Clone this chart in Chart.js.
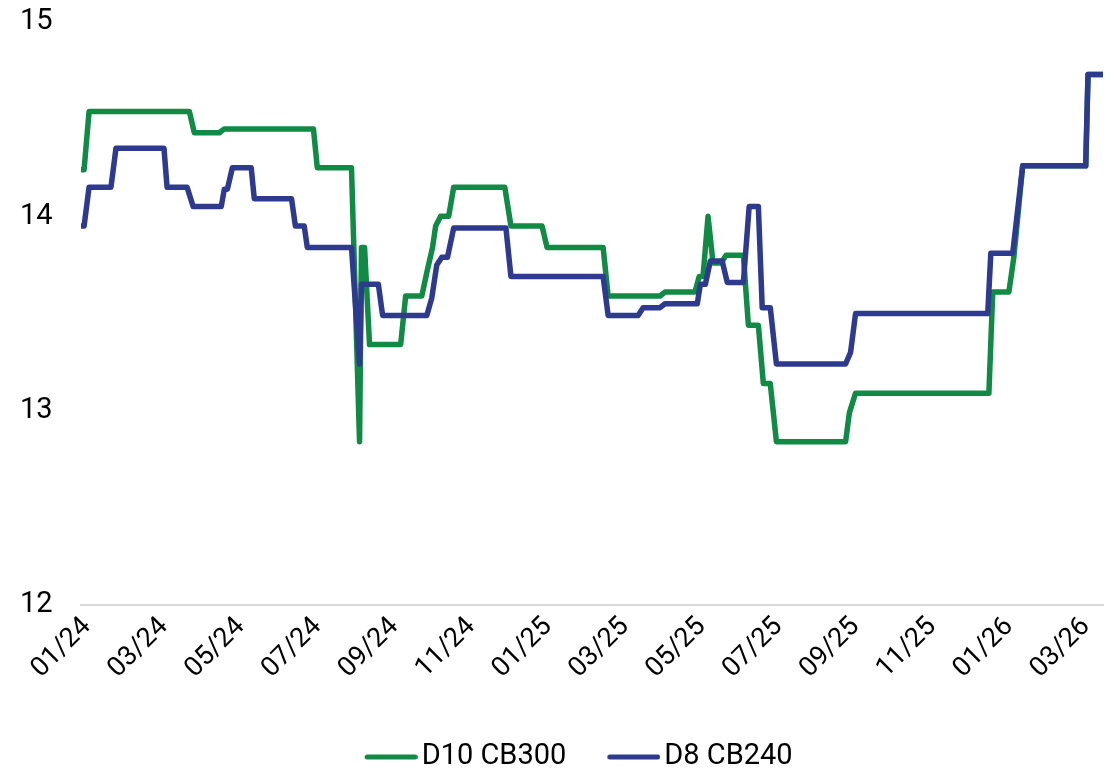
<!DOCTYPE html>
<html>
<head>
<meta charset="utf-8">
<title>D10 CB300 / D8 CB240</title>
<script src="https://cdn.jsdelivr.net/npm/chart.js@4/dist/chart.umd.min.js"></script>
<style>
  html, body { margin: 0; padding: 0; background: #ffffff; }
  #wrap { width: 1115px; height: 771px; position: relative; }
</style>
</head>
<body>
<div id="wrap"><canvas id="chart"></canvas></div>
<script>
// Time axis: months elapsed since the start of January 2024
const tickMonths = [0, 2, 4, 6, 8, 10, 12, 14, 16, 18, 20, 22, 24, 26];
const tickLabels = ['01/24', '03/24', '05/24', '07/24', '09/24', '11/24', '01/25',
                    '03/25', '05/25', '07/25', '09/25', '11/25', '01/26', '03/26'];

// D10 CB300
const d10Months = [0.00, 0.08, 0.21, 2.82, 2.95, 3.60, 3.73, 6.05, 6.15, 7.04, 7.25, 7.30, 7.38, 7.51,
                   8.32, 8.45, 8.87, 9.00, 9.15, 9.23, 9.36, 9.57, 9.70, 11.03, 11.19, 12.00, 12.13,
                   13.59, 13.72, 15.07, 15.20, 15.98, 16.09, 16.19, 16.32, 16.45, 16.66, 16.79, 17.24,
                   17.37, 17.63, 17.76, 17.94, 18.10, 19.90, 20.00, 20.16, 23.63, 23.73, 24.15, 24.28,
                   24.51, 26.15, 26.21, 26.60];
const d10Values = [14.24, 14.24, 14.54, 14.54, 14.43, 14.43, 14.45, 14.45, 14.25, 14.25, 12.84, 13.84, 13.84, 13.34,
                   13.34, 13.59, 13.59, 13.71, 13.84, 13.95, 14.00, 14.00, 14.15, 14.15, 13.95, 13.95, 13.84,
                   13.84, 13.59, 13.59, 13.61, 13.61, 13.69, 13.69, 14.00, 13.76, 13.76, 13.80, 13.80,
                   13.44, 13.44, 13.14, 13.14, 12.84, 12.84, 12.99, 13.09, 13.09, 13.61, 13.61, 13.79,
                   14.26, 14.26, 14.73, 14.73];

// D8 CB240
const d8Months = [0.00, 0.08, 0.21, 0.78, 0.91, 2.16, 2.24, 2.76, 2.92, 3.65, 3.73, 3.81, 3.94, 4.43,
                  4.51, 5.48, 5.58, 5.81, 5.89, 7.04, 7.25, 7.30, 7.74, 7.85, 9.00, 9.13, 9.26, 9.39,
                  9.54, 9.70, 11.06, 11.19, 13.59, 13.72, 14.50, 14.63, 15.07, 15.20, 16.04, 16.12,
                  16.25, 16.38, 16.69, 16.82, 17.24, 17.39, 17.63, 17.73, 17.94, 18.10, 19.90, 20.03,
                  20.16, 23.60, 23.68, 24.25, 24.51, 26.15, 26.21, 26.60];
const d8Values = [13.95, 13.95, 14.15, 14.15, 14.35, 14.35, 14.15, 14.15, 14.05, 14.05, 14.14, 14.14, 14.25, 14.25,
                  14.09, 14.09, 13.95, 13.95, 13.84, 13.84, 13.24, 13.65, 13.65, 13.49, 13.49, 13.58, 13.75, 13.79,
                  13.79, 13.94, 13.94, 13.69, 13.69, 13.49, 13.49, 13.53, 13.53, 13.55, 13.55, 13.65,
                  13.65, 13.77, 13.77, 13.66, 13.66, 14.05, 14.05, 13.53, 13.53, 13.24, 13.24, 13.30,
                  13.50, 13.50, 13.81, 13.81, 14.26, 14.26, 14.73, 14.73];

const seriesNames = ['D10 CB300', 'D8 CB240'];
const seriesColors = ['#108a44', '#2e3a8d'];

const toPoints = (xs, ys) => xs.map((x, i) => ({ x: x, y: ys[i] }));

const FONT = 'Roboto';
const FONT_SIZE = 29;
const X_TICK_SIZE = 27;
const TEXT = '#000000';
const LINE_WIDTH = 5.5;

// Legend key: a short round-capped stroke sitting just before the label text
const LEGEND_BOX = 76.8;
function legendKey(color) {
  const c = document.createElement('canvas');
  c.width = 98;
  c.height = 10;
  const g = c.getContext('2d');
  g.strokeStyle = color;
  g.lineWidth = 5;
  g.lineCap = 'round';
  g.beginPath();
  g.moveTo(47.4, 5);
  g.lineTo(95.4, 5);
  g.stroke();
  return c;
}

new Chart(document.getElementById('chart'), {
  type: 'line',
  data: {
    datasets: [
      {
        label: seriesNames[0],
        data: toPoints(d10Months, d10Values),
        borderColor: seriesColors[0],
        backgroundColor: seriesColors[0],
        pointStyle: legendKey(seriesColors[0]),
        order: 1
      },
      {
        label: seriesNames[1],
        data: toPoints(d8Months, d8Values),
        borderColor: seriesColors[1],
        backgroundColor: seriesColors[1],
        pointStyle: legendKey(seriesColors[1]),
        order: 0
      }
    ]
  },
  options: {
    responsive: true,
    maintainAspectRatio: false,
    animation: false,
    devicePixelRatio: 1,
    layout: { padding: { top: 22, left: 20, right: 12, bottom: -10.5 } },
    elements: {
      line: { borderWidth: LINE_WIDTH, tension: 0, borderJoinStyle: 'round', borderCapStyle: 'round', fill: false },
      point: { radius: 0, hoverRadius: 0 }
    },
    plugins: {
      tooltip: { enabled: false },
      legend: {
        position: 'bottom',
        fullSize: true,
        labels: {
          usePointStyle: true,
          pointStyleWidth: LEGEND_BOX,
          padding: 6.7,
          color: TEXT,
          font: { family: FONT, size: FONT_SIZE },
          sort: (a, b) => a.datasetIndex - b.datasetIndex
        }
      }
    },
    scales: {
      x: {
        type: 'linear',
        min: 0,
        max: 26.6,
        grid: { display: false, drawTicks: false },
        border: { display: true, color: '#d9d9d9', width: 2 },
        afterBuildTicks: (axis) => { axis.ticks = tickMonths.map(v => ({ value: v })); },
        afterFit: (axis) => { axis.height = 130.8; },
        ticks: {
          autoSkip: false,
          minRotation: 45,
          maxRotation: 45,
          padding: 6,
          labelOffset: 6,
          color: TEXT,
          font: { family: FONT, size: X_TICK_SIZE },
          callback: (value) => tickLabels[tickMonths.indexOf(value)]
        }
      },
      y: {
        min: 12,
        max: 15,
        grid: { display: false, drawTicks: false },
        border: { display: false },
        afterFit: (axis) => { axis.width = 61; },
        ticks: {
          stepSize: 1,
          padding: 4,
          crossAlign: 'far',
          color: TEXT,
          font: { family: FONT, size: FONT_SIZE }
        }
      }
    }
  }
});
</script>
</body>
</html>
